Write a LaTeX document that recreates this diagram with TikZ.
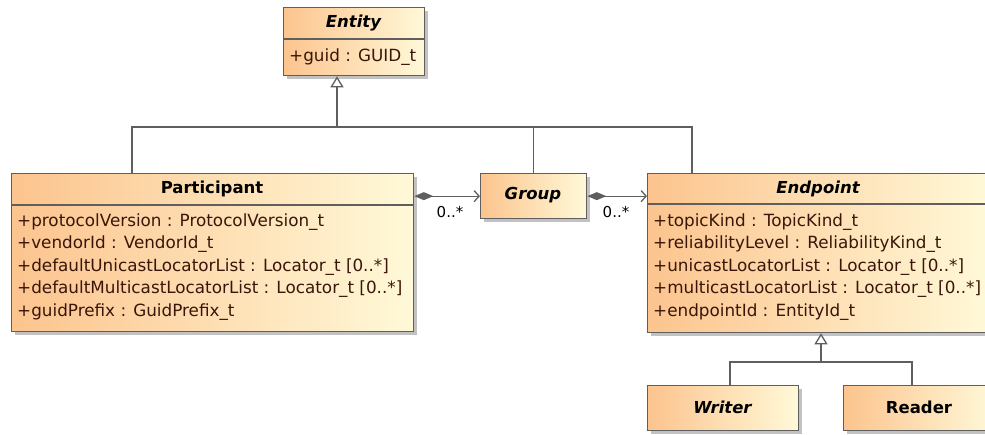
\documentclass[tikz,border=0pt]{standalone}
\usepackage{fontspec}
\setmainfont{DejaVu Sans}
\usetikzlibrary{arrows.meta,shadows}
\definecolor{umlorange}{RGB}{252,196,142}
\definecolor{umlcream}{RGB}{255,249,216}
\definecolor{umlline}{RGB}{95,95,95}
\definecolor{attrtext}{RGB}{58,22,10}

\begin{document}
\begin{tikzpicture}[x=1pt,y=-1pt]

    \tikzset{classbox/.style={draw=umlline,line width=1.3pt,left color=umlorange,right color=umlcream,
        anchor=north west,inner sep=0pt,
        drop shadow={shadow xshift=3.5pt,shadow yshift=-3.5pt,fill=black!40,opacity=0.6}}}
    \tikzset{sepline/.style={draw=umlline,line width=1.3pt}}
    \tikzset{absname/.style={font=\fontsize{16.5}{19}\selectfont\bfseries\itshape}}
    \tikzset{concname/.style={font=\fontsize{16.5}{19}\selectfont\bfseries}}
    \tikzset{attr/.style={anchor=west,inner sep=0pt,text=attrtext,text height=12pt,text depth=4pt,
        font=\fontsize{16.8}{19}\selectfont}}
    \tikzset{link/.style={draw=umlline,line width=1.3pt}}
    \tikzset{inherit/.style={link,-{Triangle[open,length=11pt,width=13pt,fill=white]}}}
    \tikzset{compose/.style={link,{Diamond[length=19pt,width=8pt,fill=umlline]}-{Straight Barb[length=5pt,width=11pt]}}}
    \tikzset{mult/.style={inner sep=0pt,font=\fontsize{15}{17}\selectfont}}

    \useasboundingbox (0,0) rectangle (985,434);

    \node[classbox,minimum width=141pt,minimum height=68pt] (entity) at (283,7) {};
    \node[classbox,minimum width=402pt,minimum height=158pt] (participant) at (11,173) {};
    \node[classbox,minimum width=106pt,minimum height=45pt] (group) at (480,173) {};
    \node[classbox,minimum width=342pt,minimum height=159pt] (endpoint) at (647,173) {};
    \node[classbox,minimum width=151pt,minimum height=45pt] (writer) at (647,385) {};
    \node[classbox,minimum width=152pt,minimum height=45pt] (reader) at (843,385) {};

    \draw[sepline] (entity.west |- 0,39) -- (entity.east |- 0,39);
    \draw[sepline] (participant.west |- 0,205) -- (participant.east |- 0,205);
    \draw[sepline] (endpoint.west |- 0,204) -- (endpoint.east |- 0,204);

    \node[absname] (entityname) at (353.5,23) {Entity};
    \node[concname] (participantname) at (212,189) {Participant};
    \node[absname] (groupname) at (533,195.5) {Group};
    \node[absname] (endpointname) at (818,189) {Endpoint};
    \node[absname] (writername) at (722.5,407.5) {Writer};
    \node[concname] (readername) at (919,407.5) {Reader};

    \node[attr] (e1) at (289,57) {+guid : GUID\_t};

    \node[attr] (p1) at (17,222) {+protocolVersion : ProtocolVersion\_t};
    \node[attr] (p2) at (17,244.5) {+vendorId : VendorId\_t};
    \node[attr] (p3) at (17,267) {+defaultUnicastLocatorList : Locator\_t [0..*]};
    \node[attr] (p4) at (17,289.5) {+defaultMulticastLocatorList : Locator\_t [0..*]};
    \node[attr] (p5) at (17,312) {+guidPrefix : GuidPrefix\_t};

    \node[attr] (d1) at (653,222) {+topicKind : TopicKind\_t};
    \node[attr] (d2) at (653,244.5) {+reliabilityLevel : ReliabilityKind\_t};
    \node[attr] (d3) at (653,267) {+unicastLocatorList : Locator\_t [0..*]};
    \node[attr] (d4) at (653,289.5) {+multicastLocatorList : Locator\_t [0..*]};
    \node[attr] (d5) at (653,312) {+endpointId : EntityId\_t};

    % generalisation
    \coordinate (entfoot) at (337,127);
    \coordinate (parttop) at (132,173);
    \coordinate (endtop) at (692,173);
    \draw[inherit] (entfoot) -- (entfoot |- entity.south);
    \draw[link] (parttop) |- (endtop |- entfoot) -- (endtop);
    \draw[link] (group.north) -- (group.north |- entfoot);

    \coordinate (epfoot) at (821,362);
    \coordinate (writertop) at (730,385);
    \coordinate (readertop) at (912,385);
    \draw[inherit] (epfoot) -- (epfoot |- endpoint.south);
    \draw[link] (writertop) |- (readertop |- epfoot) -- (readertop);

    % composition
    \draw[compose] (group.west -| participant.east) -- (group.west);
    \draw[compose] (group.east) -- (group.east -| endpoint.west);
    \node[mult] (m1) at (450,212) {0..*};
    \node[mult] (m2) at (616,212) {0..*};

\end{tikzpicture}
\end{document}
